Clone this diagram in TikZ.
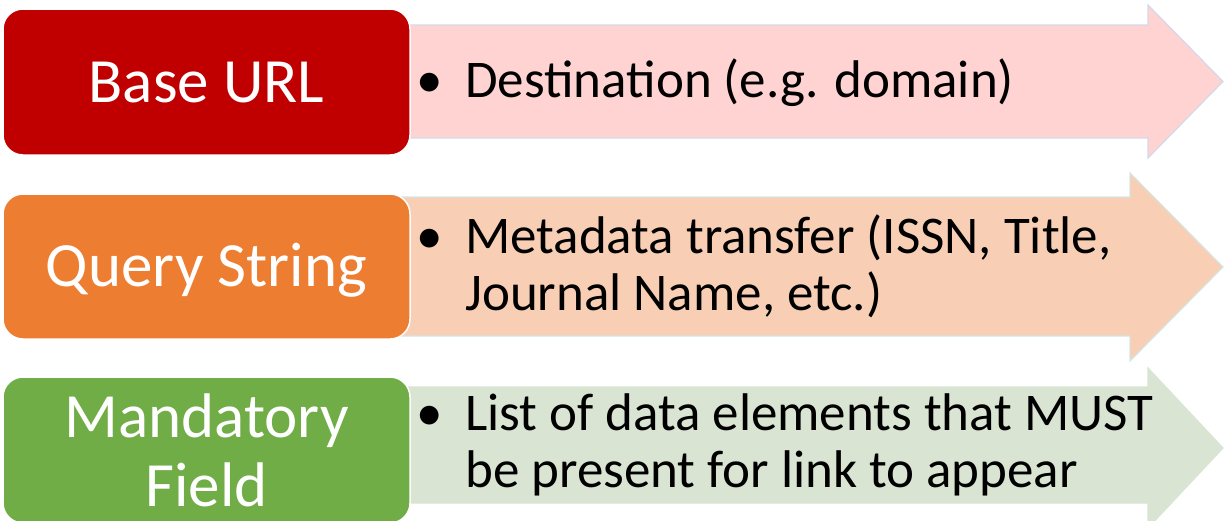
\documentclass[tikz,border=0pt]{standalone}
\usepackage{fontspec}
\setmainfont{Carlito}
\usetikzlibrary{arrows}

\definecolor{urlRed}{HTML}{C00000}
\definecolor{urlPink}{HTML}{FFD3D1}
\definecolor{urlPinkLine}{HTML}{D3D9E8}
\definecolor{queryOrange}{HTML}{ED7D31}
\definecolor{queryPeach}{HTML}{F8CFB4}
\definecolor{queryPeachLine}{HTML}{D3E6E2}
\definecolor{fieldGreen}{HTML}{70AD47}
\definecolor{fieldSage}{HTML}{D9E4D3}

\begin{document}
\begin{tikzpicture}[x=1pt,y=-1pt,
        keybox/.style={draw=white, line width=1.5pt, rounded corners=20pt, text=white,
                minimum width=407pt, font=\fontsize{63}{69}\selectfont, align=center},
        keytext/.style={anchor=base west, inner sep=0pt, font=\fontsize{53}{57}\selectfont}]
        \useasboundingbox (0,0) rectangle (1225,520);
        % the three arrows
        \filldraw[fill=urlPink, draw=urlPinkLine, line width=1.2pt] (400,25) -- (1148,25) -- (1148,5) -- (1223,81.5) -- (1148,158) -- (1148,138) -- (400,138) -- cycle;
        \filldraw[fill=queryPeach, draw=queryPeachLine, line width=1.2pt] (400,197) -- (1130,197) -- (1130,173) -- (1223,267) -- (1130,361) -- (1130,336) -- (400,336) -- cycle;
        \filldraw[fill=fieldSage, draw=fieldSage, line width=1.2pt] (400,387) -- (1148,387) -- (1148,368) -- (1223,448) -- (1148,528) -- (1148,503) -- (400,503) -- cycle;
        % the three boxes
        \node[keybox, fill=urlRed, minimum height=146pt, text height=40pt, text depth=0pt] (base) at (206.5,82) {Base URL};
        \node[keybox, fill=queryOrange, minimum height=145pt, text height=40pt, text depth=0pt] (query) at (206.5,266.5) {Query String};
        \node[keybox, fill=fieldGreen, minimum height=146pt] (field) at (206.5,450) {Mandatory\\Field};
        % what each part holds
        \node[keytext] (dest) at (416,97) {\begin{tabular}[t]{@{}p{49pt}@{}l@{}}\textbullet & Destination (e.g. domain)\end{tabular}};
        \node[keytext] (meta) at (416,253) {\begin{tabular}[t]{@{}p{49pt}@{}l@{}}\textbullet & Metadata transfer (ISSN, Title,\\ & Journal Name, etc.)\end{tabular}};
        \node[keytext] (list) at (416,430) {\begin{tabular}[t]{@{}p{49pt}@{}l@{}}\textbullet & List of data elements that MUST\\ & be present for link to appear\end{tabular}};
\end{tikzpicture}
\end{document}
